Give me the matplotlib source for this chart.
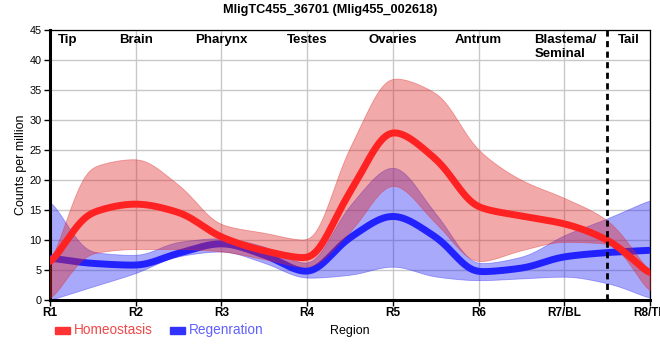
import numpy as np
import matplotlib.pyplot as plt
from matplotlib.patches import Rectangle

plt.rcParams['font.family'] = ['Liberation Sans', 'DejaVu Sans']

# values read at half-region steps R1, R1.5, R2, ... R8
regions = ['R1', 'R2', 'R3', 'R4', 'R5', 'R6', 'R7/BL', 'R8/TL']
steps = np.arange(15) * 0.5

homeo_mean = [6, 14.6, 16, 14.6, 10.5, 8.2, 7, 18, 28, 23.5, 15.5, 14, 12.7, 10, 4.3]
homeo_upper = [6, 22.2, 23.5, 19.2, 12.6, 11.2, 10, 25.5, 37, 34.5, 25, 20, 17, 13.3, 4.6]
homeo_lower = [0, 7.8, 8.5, 8.5, 8.1, 6.8, 5.5, 11.4, 19.2, 12.8, 6.4, 8.3, 9.7, 9.4, 1.2]

regen_mean = [7, 6.1, 5.8, 7.8, 9.4, 7.5, 4.7, 10.4, 14, 10.5, 4.7, 5.3, 7.2, 7.9, 8.3]
regen_upper = [16.7, 8, 7.5, 9.7, 10.3, 8.9, 6.1, 15.8, 22.2, 14.4, 6.1, 7.2, 10.8, 13.6, 16.7]
regen_lower = [0, 2.25, 4.5, 7.3, 8.1, 6.2, 3.7, 4.2, 5.6, 3.9, 3.3, 3.6, 3.9, 2.8, 0.3]

labels = ['Tip', 'Brain', 'Pharynx', 'Testes', 'Ovaries', 'Antrum', 'Blastema/\nSeminal', 'Tail']
label_pos = [0.2, 1, 2, 3, 4, 5, 5.65, 6.75]
label_ha = ['center'] * 6 + ['left', 'center']


def smooth(x, y, xs, sigma=0.06):
    # monotone cubic curve through the points, then lightly rounded
    x = np.asarray(x, float)
    y = np.asarray(y, float)
    h = np.diff(x)
    d = np.diff(y) / h
    m = np.zeros_like(y)
    m[0], m[-1] = d[0], d[-1]
    for k in range(1, len(y) - 1):
        if d[k - 1] * d[k] > 0:
            w1 = 2 * h[k] + h[k - 1]
            w2 = h[k] + 2 * h[k - 1]
            m[k] = (w1 + w2) / (w1 / d[k - 1] + w2 / d[k])
    i = np.clip(np.searchsorted(x, xs) - 1, 0, len(x) - 2)
    t = (xs - x[i]) / h[i]
    h00 = 2 * t**3 - 3 * t**2 + 1
    h10 = t**3 - 2 * t**2 + t
    h01 = -2 * t**3 + 3 * t**2
    h11 = t**3 - t**2
    ys = h00 * y[i] + h10 * h[i] * m[i] + h01 * y[i + 1] + h11 * h[i] * m[i + 1]
    dx = xs[1] - xs[0]
    n = int(3 * sigma / dx)
    k = np.exp(-0.5 * (np.arange(-n, n + 1) * dx / sigma) ** 2)
    k /= k.sum()
    return np.convolve(np.pad(ys, n, mode='edge'), k, mode='valid')


xs = np.linspace(0, 7, 701)

fig = plt.figure(figsize=(6.6, 3.6), dpi=100)
ax = fig.add_axes([50 / 660, 60 / 360, 600 / 660, 270 / 360])

ax.fill_between(xs, smooth(steps, regen_lower, xs), smooth(steps, regen_upper, xs),
                color='#2828f5', alpha=0.4, lw=0.6, zorder=2)
ax.plot(xs, smooth(steps, regen_mean, xs), color='#2222ff', lw=5, zorder=3,
        solid_capstyle='round')
ax.fill_between(xs, smooth(steps, homeo_lower, xs), smooth(steps, homeo_upper, xs),
                color='#e02828', alpha=0.4, lw=0.6, zorder=4)
ax.plot(xs, smooth(steps, homeo_mean, xs), color='#ff2222', lw=5, zorder=5,
        solid_capstyle='round')

ax.axvline(6.5, color='black', lw=2, linestyle=(0, (2.2, 1.6)), zorder=6)

for lab, p, ha in zip(labels, label_pos, label_ha):
    ax.text(p, 44.3, lab, ha=ha, va='top', fontsize=9.5, fontweight='bold',
            linespacing=1.2, zorder=7)

ax.set_xlim(0, 7)
ax.set_ylim(0, 45)
ax.set_xticks(range(8))
ax.set_xticklabels(regions, fontweight='bold', fontsize=8.5)
ax.set_yticks(range(0, 46, 5))
ax.tick_params(axis='y', labelsize=7.8, length=4, width=1, pad=2)
ax.tick_params(axis='x', length=4, width=1, pad=1)
ax.grid(True, color='#c8c8c8', lw=1, zorder=0)
ax.set_axisbelow(True)
for s in ['left', 'bottom']:
    ax.spines[s].set_linewidth(2.2)
for s in ['top', 'right']:
    ax.spines[s].set_linewidth(0.9)

fig.text(330 / 660, 1 - 10 / 360, 'MligTC455_36701 (Mlig455_002618)', ha='center', va='center',
         fontsize=9.2, fontweight='bold')
fig.text(21 / 660, 1 - 165 / 360, 'Counts per million', rotation=90, ha='center', va='center',
         fontsize=9)
fig.text(350 / 660, 1 - 331 / 360, 'Region', ha='center', va='center', fontsize=9)

# legend
fig.patches.append(Rectangle((55 / 660, 1 - 334 / 360), 15 / 660, 7 / 360,
                             transform=fig.transFigure, color='#ff3333'))
fig.text(74 / 660, 1 - 330 / 360, 'Homeostasis', ha='left', va='center', fontsize=9.8,
         color='#f04848')
fig.patches.append(Rectangle((170 / 660, 1 - 334 / 360), 15 / 660, 7 / 360,
                             transform=fig.transFigure, color='#3333ff'))
fig.text(189 / 660, 1 - 330 / 360, 'Regenration', ha='left', va='center', fontsize=9.8,
         color='#6060ff')

fig.savefig('out.png', dpi=100)
